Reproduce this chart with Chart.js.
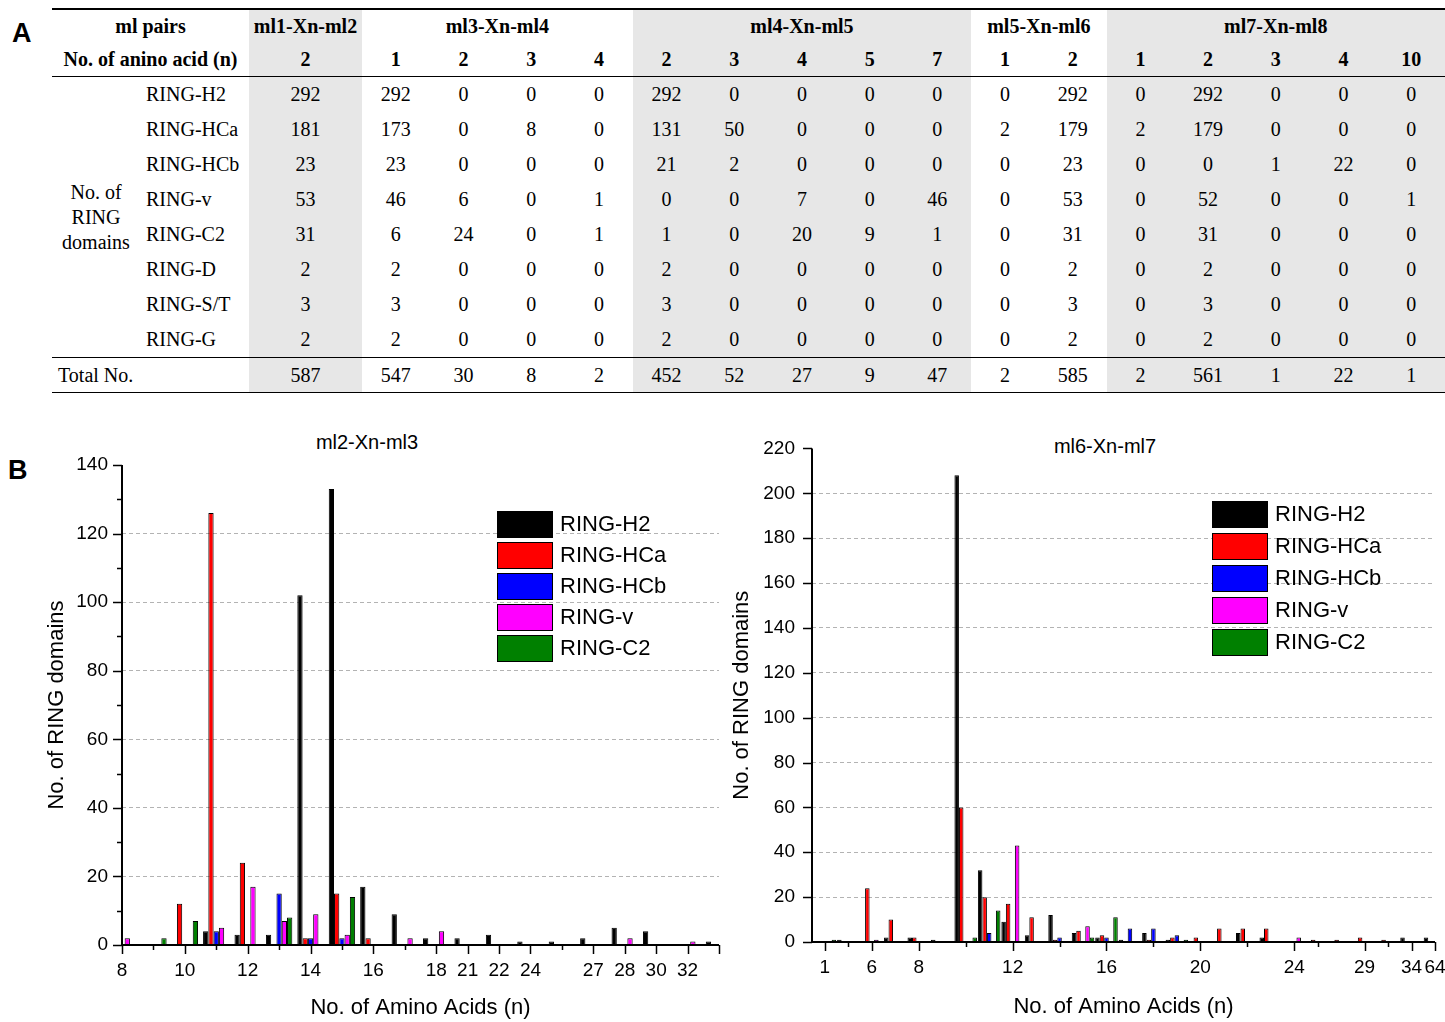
<!DOCTYPE html>
<html>
<head>
<meta charset="utf-8">
<script src="https://cdn.jsdelivr.net/npm/chart.js@4.4.0/dist/chart.umd.min.js"></script>
<style>
  body { margin: 0; width: 1445px; height: 1022px; background: #fff; position: relative; overflow: hidden;
         font-family: "Liberation Sans", Arial, sans-serif; color: #000; }
  .panel { position: absolute; font-weight: bold; font-size: 27px; }
  .ctitle { position: absolute; font-size: 20px; transform: translate(-50%, -50%); white-space: nowrap; }
  .box { position: absolute; }
  #ringTable { position: absolute; left: 52px; top: 8px; width: 1393px; border-collapse: collapse; table-layout: fixed;
               font-family: "Liberation Serif", "Times New Roman", serif; font-size: 20px; }
  #ringTable td { height: 35px; padding: 0; text-align: center; vertical-align: middle; white-space: nowrap; }
  #ringTable tr.top td, #ringTable tr.head2 td { height: 33px; }
  #ringTable tr.tot td { height: 34px; }
  #ringTable td.g { background: #e7e7e7; }
  #ringTable td.b { font-weight: bold; }
  #ringTable td.name { text-align: left; padding-left: 6px; }
  #ringTable td.grp { line-height: 25px; }
  #ringTable tr.top td { border-top: 2px solid #000; }
  #ringTable tr.head2 td { border-bottom: 1.5px solid #000; }
  #ringTable tr.tot td { border-top: 1.5px solid #000; border-bottom: 1.5px solid #000; }
</style>
</head>
<body>

<div class="panel" style="left:12px; top:18px;">A</div>
<div class="panel" style="left:8px; top:455px;">B</div>

<table id="ringTable"></table>

<div class="ctitle" style="left:367px; top:442px;">ml2-Xn-ml3</div>
<div class="ctitle" style="left:1105px; top:446px;">ml6-Xn-ml7</div>

<div class="box" style="left:0; top:420px; width:740px; height:602px;"><canvas id="leftChart" width="740" height="602"></canvas></div>
<div class="box" style="left:720px; top:420px; width:725px; height:602px;"><canvas id="rightChart" width="725" height="602"></canvas></div>

<script>
// -------- TABLE DATA (A) -------- //
const pairNames = ['ml1-Xn-ml2', 'ml3-Xn-ml4', 'ml4-Xn-ml5', 'ml5-Xn-ml6', 'ml7-Xn-ml8'];
const pairN = [[2], [1, 2, 3, 4], [2, 3, 4, 5, 7], [1, 2], [1, 2, 3, 4, 10]];
const ringTypes = ['RING-H2', 'RING-HCa', 'RING-HCb', 'RING-v', 'RING-C2', 'RING-D', 'RING-S/T', 'RING-G'];
const rowH2  = [292, 292, 0, 0, 0, 292, 0, 0, 0, 0, 0, 292, 0, 292, 0, 0, 0];
const rowHCa = [181, 173, 0, 8, 0, 131, 50, 0, 0, 0, 2, 179, 2, 179, 0, 0, 0];
const rowHCb = [23, 23, 0, 0, 0, 21, 2, 0, 0, 0, 0, 23, 0, 0, 1, 22, 0];
const rowV   = [53, 46, 6, 0, 1, 0, 0, 7, 0, 46, 0, 53, 0, 52, 0, 0, 1];
const rowC2  = [31, 6, 24, 0, 1, 1, 0, 20, 9, 1, 0, 31, 0, 31, 0, 0, 0];
const rowD   = [2, 2, 0, 0, 0, 2, 0, 0, 0, 0, 0, 2, 0, 2, 0, 0, 0];
const rowST  = [3, 3, 0, 0, 0, 3, 0, 0, 0, 0, 0, 3, 0, 3, 0, 0, 0];
const rowG   = [2, 2, 0, 0, 0, 2, 0, 0, 0, 0, 0, 2, 0, 2, 0, 0, 0];
const rowTotal = [587, 547, 30, 8, 2, 452, 52, 27, 9, 47, 2, 585, 2, 561, 1, 22, 1];
const tableRows = [rowH2, rowHCa, rowHCb, rowV, rowC2, rowD, rowST, rowG];

// -------- ml2-Xn-ml3 -------- //
const leftLabels = ['8', '', '10', '', '12', '', '14', '', '16', '', '18', '21', '22', '24', '', '27', '28', '30', '32', ''];
const leftH2  = [0, 0, 0, 4, 3, 3, 102, 133, 17, 9, 2, 2, 3, 1, 1, 2, 5, 4, 0, 1];
const leftHCa = [0, 0, 12, 126, 24, 0, 2, 15, 2, 0, 0, 0, 0, 0, 0, 0, 0, 0, 0, 0];
const leftHCb = [0, 0, 0, 4, 0, 15, 2, 2, 0, 0, 0, 0, 0, 0, 0, 0, 0, 0, 0, 0];
const leftV   = [2, 0, 0, 5, 17, 7, 9, 3, 0, 2, 4, 0, 0, 0, 0, 0, 2, 0, 1, 0];
const leftC2  = [0, 2, 7, 0, 0, 8, 0, 14, 0, 0, 0, 0, 0, 0, 0, 0, 0, 0, 0, 0];

// -------- ml6-Xn-ml7 -------- //
const rightLabels = ['1', '', '6', '', '8', '', '', '', '12', '', '', '', '16', '', '', '', '20', '', '', '', '24', '', '', '29', '', '34', '64'];
const rightH2  = [0, 1, 0, 2, 2, 1, 208, 32, 9, 3, 12, 4, 2, 1, 4, 1, 0, 0, 4, 2, 0, 0, 0, 0, 0, 2, 2];
const rightHCa = [0, 0, 24, 10, 2, 0, 60, 20, 17, 11, 1, 5, 3, 0, 1, 2, 2, 6, 6, 6, 0, 1, 1, 2, 1, 0, 0];
const rightHCb = [0, 0, 0, 0, 0, 0, 0, 4, 0, 0, 2, 0, 2, 6, 6, 3, 0, 0, 0, 0, 0, 0, 0, 0, 0, 0, 0];
const rightV   = [0, 0, 1, 0, 0, 0, 0, 0, 43, 0, 0, 7, 0, 0, 0, 0, 0, 0, 0, 0, 2, 0, 0, 0, 0, 0, 0];
const rightC2  = [1, 0, 0, 0, 0, 0, 2, 14, 0, 0, 0, 2, 11, 0, 0, 1, 0, 0, 0, 0, 0, 0, 0, 0, 0, 0, 0];

const seriesNames = ['RING-H2', 'RING-HCa', 'RING-HCb', 'RING-v', 'RING-C2'];
const seriesColors = ['#000000', '#ff0000', '#0000ff', '#ff00ff', '#008000'];


// -------- BUILD TABLE -------- //
const grayGroup = [true, false, true, false, true];
const colGray = [];
pairN.forEach((ns, g) => ns.forEach(() => colGray.push(grayGroup[g])));
const cls = (i, extra) => 'class="' + (colGray[i] ? 'g ' : '') + (extra || '') + '"';

let html = '<colgroup><col style="width:88px"><col style="width:109px"><col style="width:113px">';
for (let i = 1; i < colGray.length; i++) html += '<col>';
html += '</colgroup>';

html += '<tr class="top"><td colspan="2" class="b">ml pairs</td>';
pairNames.forEach((p, g) => {
  html += '<td colspan="' + pairN[g].length + '" class="b' + (grayGroup[g] ? ' g' : '') + '">' + p + '</td>';
});
html += '</tr><tr class="head2"><td colspan="2" class="b">No. of anino acid (n)</td>';
pairN.flat().forEach((n, i) => { html += '<td ' + cls(i, 'b') + '>' + n + '</td>'; });
html += '</tr>';

tableRows.forEach((row, r) => {
  html += '<tr>';
  if (r === 0) html += '<td rowspan="8" class="grp">No. of<br>RING<br>domains</td>';
  html += '<td class="name">' + ringTypes[r] + '</td>';
  row.forEach((v, i) => { html += '<td ' + cls(i) + '>' + v + '</td>'; });
  html += '</tr>';
});
html += '<tr class="tot"><td colspan="2" class="name">Total No.</td>';
rowTotal.forEach((v, i) => { html += '<td ' + cls(i) + '>' + v + '</td>'; });
html += '</tr>';
document.getElementById('ringTable').innerHTML = html;


// -------- CHART HELPERS -------- //
Chart.defaults.font.family = '"Liberation Sans", Arial, sans-serif';
Chart.defaults.color = '#000';

// axis lines with major / minor tick marks
const axisMarks = {
  id: 'axisMarks',
  afterDraw(chart, args, o) {
    const { ctx, chartArea: a, scales: { x, y } } = chart;
    ctx.save();
    ctx.strokeStyle = '#000';
    ctx.lineWidth = 2;
    ctx.beginPath();
    ctx.moveTo(a.left, a.top);
    ctx.lineTo(a.left, a.bottom);
    ctx.lineTo(a.right, a.bottom);
    ctx.stroke();
    ctx.lineWidth = 1.5;
    ctx.beginPath();
    y.ticks.forEach(t => {
      const py = Math.round(y.getPixelForValue(t.value)) + 0.5;
      const len = t.value % o.yMajor === 0 ? 9 : 5;
      ctx.moveTo(a.left, py);
      ctx.lineTo(a.left - len, py);
    });
    o.xMajor.forEach(i => {
      const px = Math.round(x.getPixelForValue(i)) + 0.5;
      ctx.moveTo(px, a.bottom);
      ctx.lineTo(px, a.bottom + 9);
    });
    o.xMinor.forEach(i => {
      const px = Math.round(x.getPixelForValue(i)) + 0.5;
      ctx.moveTo(px, a.bottom);
      ctx.lineTo(px, a.bottom + 5);
    });
    ctx.stroke();
    ctx.restore();
  }
};

// boxed legend inside the plot
const boxLegend = {
  id: 'boxLegend',
  afterDraw(chart, args, o) {
    const ctx = chart.ctx;
    ctx.save();
    ctx.font = '22px "Liberation Sans", Arial, sans-serif';
    ctx.textBaseline = 'middle';
    chart.data.datasets.forEach((ds, i) => {
      const top = o.top + i * o.step;
      ctx.fillStyle = ds.backgroundColor;
      ctx.fillRect(o.left, top, 55, 26);
      ctx.strokeStyle = '#000';
      ctx.lineWidth = 1;
      ctx.strokeRect(o.left + 0.5, top + 0.5, 55, 26);
      ctx.fillStyle = '#000';
      ctx.fillText(ds.label, o.left + 63, top + 14);
    });
    ctx.restore();
  }
};

function makeSets(series, toPoint) {
  return series.map((vals, k) => ({
    label: seriesNames[k],
    data: toPoint ? vals.map((v, i) => ({ x: i, y: v })) : vals,
    backgroundColor: seriesColors[k],
    borderColor: '#000',
    borderWidth: 1,
    barPercentage: 1
  }));
}

function yAxis(max, width, labelPad, titlePad) {
  return {
    min: 0, max: max,
    afterFit: s => { s.width = width; },
    afterBuildTicks: s => {
      const t = [];
      for (let v = 0; v <= max; v += 10) t.push({ value: v });
      s.ticks = t;
    },
    ticks: { padding: labelPad, font: { size: 19 }, callback: v => (v % 20 === 0 ? v : '') },
    grid: {
      drawTicks: false, lineWidth: 1,
      color: c => (c.tick && c.tick.value % 20 === 0 && c.tick.value > 0 && c.tick.value < max) ? '#b3b3b3' : 'rgba(0,0,0,0)'
    },
    border: { display: false, dash: [4, 3] },
    title: { display: true, text: 'No. of RING domains', font: { size: 22 }, padding: { top: titlePad, bottom: 0 } }
  };
}

function xFit(height) {
  return s => { s.height = height; s.paddingLeft = 0; s.paddingRight = 0; };
}

// -------- LEFT CHART -------- //
new Chart(document.getElementById('leftChart'), {
  type: 'bar',
  data: {
    labels: leftLabels,
    datasets: makeSets([leftH2, leftHCa, leftHCb, leftV, leftC2], false)
  },
  plugins: [axisMarks, boxLegend],
  options: {
    responsive: false,
    animation: false,
    categoryPercentage: 0.84,
    layout: { padding: { top: 45, right: 21, left: 0, bottom: 0 } },
    scales: {
      x: {
        type: 'category', offset: false,
        afterFit: xFit(77),
        grid: { display: false, drawTicks: false },
        border: { display: false },
        ticks: { autoSkip: false, maxRotation: 0, padding: 14, font: { size: 19 } },
        title: { display: true, text: 'No. of Amino Acids (n)', font: { size: 22 }, padding: { top: 0, bottom: 1 } }
      },
      y: yAxis(140, 122, 14, 44)
    },
    plugins: {
      legend: { display: false },
      tooltip: { enabled: false },
      axisMarks: { yMajor: 20, xMajor: [0, 2, 4, 6, 8, 10, 11, 12, 13, 15, 16, 17, 18, 19], xMinor: [1, 3, 5, 7, 9, 14] },
      boxLegend: { left: 497, top: 91, step: 31 }
    }
  }
});

// -------- RIGHT CHART -------- //
new Chart(document.getElementById('rightChart'), {
  type: 'bar',
  data: {
    datasets: makeSets([rightH2, rightHCa, rightHCb, rightV, rightC2], true)
  },
  plugins: [axisMarks, boxLegend],
  options: {
    responsive: false,
    animation: false,
    categoryPercentage: 0.96,
    layout: { padding: { top: 21, right: 10, left: 0, bottom: 0 } },
    scales: {
      x: {
        type: 'linear', offset: false, min: -0.55, max: rightLabels.length - 1,
        afterFit: xFit(80),
        afterBuildTicks: s => { s.ticks = rightLabels.map((l, i) => ({ value: i })); },
        grid: { display: false, drawTicks: false },
        border: { display: false },
        ticks: { autoSkip: false, maxRotation: 0, padding: 14, font: { size: 19 }, callback: v => rightLabels[v] || '' },
        title: { display: true, text: 'No. of Amino Acids (n)', font: { size: 22 }, padding: { top: 0, bottom: 2 } }
      },
      y: yAxis(220, 92, 17, 9)
    },
    plugins: {
      legend: { display: false },
      tooltip: { enabled: false },
      axisMarks: { yMajor: 20, xMajor: [0, 2, 4, 8, 12, 16, 20, 23, 25, 26], xMinor: [1, 6, 10, 14, 18, 21, 24] },
      boxLegend: { left: 492, top: 81, step: 32 }
    }
  }
});
</script>
</body>
</html>
